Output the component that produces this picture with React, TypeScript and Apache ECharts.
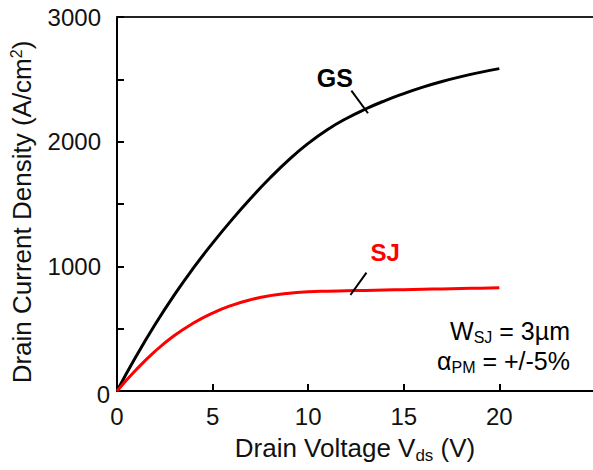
import React, { useEffect, useRef } from 'react';
import * as echarts from 'echarts';

const voltage = [0, 1, 2, 3, 4, 5, 6, 7, 8, 9, 10, 11, 12, 13, 14, 15, 16, 17, 18, 19, 20];
const gsCurrent = [0, 278, 535, 771, 987, 1186, 1372, 1546, 1708, 1856, 1986, 2096, 2186, 2262, 2328, 2386, 2438, 2483, 2522, 2556, 2586];
const sjCurrent = [0, 170, 320, 445, 545, 625, 687, 733, 765, 785, 796, 801, 804, 807, 810, 813, 816, 819, 822, 825, 828];
const xMin = 0;
const xMax = 24.9;
const xStep = 5;
const yMin = 0;
const yMax = 3000;
const yStep = 500;
const yLabelStep = 1000;

const gsLabel = { text: 'GS', at: [11.4, 2508] };
const gsLeader = [[12.26, 2409], [13.13, 2228]];
const sjLabel = { text: 'SJ', at: [14.03, 1111] };
const sjLeader = [[13.05, 949], [12.21, 770]];

const FONT = '"Liberation Sans", Arial, Helvetica, sans-serif';
const TXT = '#111';

export default function App() {
  const ref = useRef<HTMLDivElement>(null);
  useEffect(() => {
    document.body.style.margin = '0';
    const chart = echarts.init(ref.current as HTMLDivElement, null, { renderer: 'svg' });
    const n = { fontSize: 25, fontFamily: FONT, color: TXT, lineHeight: 27 };
    const s = { fontSize: 17, fontFamily: FONT, color: TXT, lineHeight: 13, padding: [14, 0, 0, 0] };
    const nr = { fontSize: 25, fontFamily: FONT, color: TXT, lineHeight: 30, align: 'right' };
    const sr = { fontSize: 16, fontFamily: FONT, color: TXT, lineHeight: 17, padding: [13, 0, 0, 0], align: 'right' };
    chart.setOption({
      animation: false,
      backgroundColor: '#fff',
      grid: { left: 117, right: 0, top: 17, bottom: 79, containLabel: false },
      xAxis: [
        {
          type: 'value', min: xMin, max: xMax, interval: xStep,
          axisLine: { show: true, onZero: false, lineStyle: { color: '#000', width: 2 } },
          axisTick: { show: true, inside: true, length: 7, lineStyle: { color: '#000', width: 2 } },
          axisLabel: { showMaxLabel: false, color: TXT, fontSize: 24, fontFamily: FONT, margin: 13 },
          splitLine: { show: false },
          name: '{n|Drain Voltage V}{s|ds}{n| (V)}',
          nameLocation: 'middle', nameGap: 42,
          nameTextStyle: { rich: { n: { ...n, fontSize: 26 }, s } },
        },
        {
          type: 'value', min: xMin, max: xMax, position: 'top',
          axisLine: { show: true, onZero: false, lineStyle: { color: '#222', width: 2 } },
          axisTick: { show: false }, axisLabel: { show: false }, splitLine: { show: false },
        },
      ],
      yAxis: {
        type: 'value', min: yMin, max: yMax, interval: yStep,
        axisLine: { show: true, onZero: false, lineStyle: { color: '#000', width: 2 } },
        axisTick: { show: true, inside: true, length: 7, lineStyle: { color: '#000', width: 2 } },
        axisLabel: {
          color: TXT, fontSize: 24, fontFamily: FONT, margin: 16,
          formatter: (v: number) => (v % yLabelStep === 0 ? (v === 0 ? '{z|0}' : String(v)) : ''),
          rich: { z: { fontSize: 24, fontFamily: FONT, color: TXT, padding: [6, -9, 0, 0] } },
        },
        splitLine: { show: false },
        name: '{n|Drain Current Density (A/cm}{p|2}{n|)}',
        nameLocation: 'middle', nameGap: 82, nameRotate: 90,
        nameTextStyle: {
          padding: [0, 16, 0, 0],
          rich: {
            n: { ...n, fontSize: 26 },
            p: { fontSize: 16, fontFamily: FONT, color: TXT, verticalAlign: 'top', lineHeight: 18 },
          },
        },
      },
      series: [
        {
          type: 'line', name: 'GS', smooth: true, showSymbol: false, silent: true,
          data: voltage.map((v, i) => [v, gsCurrent[i]]),
          lineStyle: { color: '#000', width: 3 },
          markLine: {
            silent: true, symbol: ['none', 'none'], label: { show: false },
            lineStyle: { color: '#000', width: 2, type: 'solid' },
            data: [[{ coord: gsLeader[0] }, { coord: gsLeader[1] }]],
          },
          markPoint: {
            silent: true, symbol: 'circle', symbolSize: 1, itemStyle: { color: 'transparent' },
            label: { show: true, position: 'inside', formatter: gsLabel.text, color: '#000', fontWeight: 'bold', fontSize: 25, fontFamily: FONT },
            data: [{ coord: gsLabel.at }],
          },
        },
        {
          type: 'line', name: 'SJ', smooth: true, showSymbol: false, silent: true,
          data: voltage.map((v, i) => [v, sjCurrent[i]]),
          lineStyle: { color: '#ff0000', width: 3 },
          markLine: {
            silent: true, symbol: ['none', 'none'], label: { show: false },
            lineStyle: { color: '#000', width: 2, type: 'solid' },
            data: [[{ coord: sjLeader[0] }, { coord: sjLeader[1] }]],
          },
          markPoint: {
            silent: true, symbol: 'circle', symbolSize: 1, itemStyle: { color: 'transparent' },
            label: { show: true, position: 'inside', formatter: sjLabel.text, color: '#ff0000', fontWeight: 'bold', fontSize: 24, fontFamily: FONT },
            data: [{ coord: sjLabel.at }],
          },
        },
      ],
      graphic: [
        {
          type: 'text', right: 23, top: 316,
          style: { text: '{n|W}{s|SJ}{n| = 3µm}\n{n|α}{s|PM}{n| = +/-5%}', align: 'right', rich: { n: nr, s: sr } },
        },
      ],
    });
    return () => chart.dispose();
  }, []);
  return <div ref={ref} style={{ width: 593, height: 470 }} />;
}
